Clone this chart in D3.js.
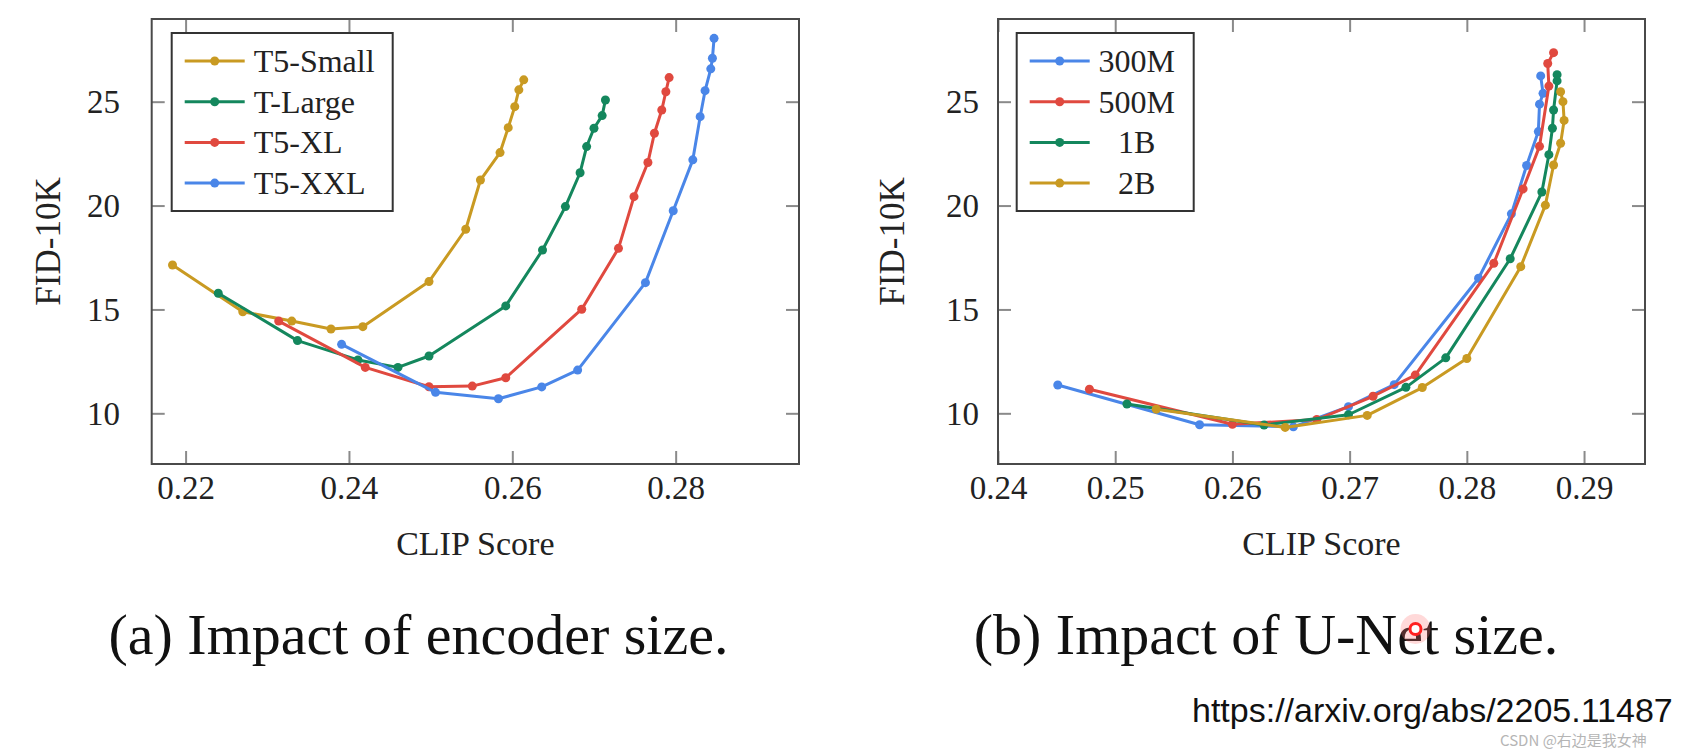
<!DOCTYPE html>
<html>
<head>
<meta charset="utf-8">
<script src="https://cdn.jsdelivr.net/npm/d3@7"></script>
<style>
  html, body { margin: 0; padding: 0; background: #fff; }
  svg { display: block; }
</style>
</head>
<body>
<svg id="chart" width="1702" height="750"></svg>
<script>
// ---------------- DATA ----------------
// (a) Impact of encoder size
const encoderLabels = ["T5-Small", "T-Large", "T5-XL", "T5-XXL"];
const t5SmallClip = [0.2184, 0.2270, 0.2330, 0.2378, 0.2417, 0.2498, 0.2543, 0.2561, 0.2585, 0.2595, 0.2603, 0.2608, 0.2614];
const t5SmallFid  = [17.14, 14.89, 14.44, 14.06, 14.17, 16.34, 18.86, 21.23, 22.55, 23.75, 24.76, 25.57, 26.05];
const tLargeClip  = [0.2240, 0.2337, 0.2411, 0.2460, 0.2498, 0.2592, 0.2637, 0.2665, 0.2683, 0.2691, 0.2700, 0.2710, 0.2714];
const tLargeFid   = [15.78, 13.50, 12.57, 12.21, 12.76, 15.17, 17.86, 19.95, 21.58, 22.84, 23.72, 24.33, 25.08];
const t5XLClip    = [0.2314, 0.2420, 0.2498, 0.2551, 0.2592, 0.2685, 0.2730, 0.2749, 0.2766, 0.2774, 0.2783, 0.2788, 0.2792];
const t5XLFid     = [14.44, 12.21, 11.28, 11.31, 11.71, 15.01, 17.94, 20.43, 22.07, 23.48, 24.60, 25.48, 26.16];
const t5XXLClip   = [0.2391, 0.2506, 0.2583, 0.2636, 0.2680, 0.2763, 0.2797, 0.2821, 0.2830, 0.2836, 0.2843, 0.2845, 0.2847];
const t5XXLFid    = [13.32, 11.01, 10.70, 11.27, 12.08, 16.29, 19.75, 22.20, 24.28, 25.53, 26.58, 27.09, 28.05];

// (b) Impact of U-Net size
const unetLabels = ["300M", "500M", "1B", "2B"];
const u300MClip = [0.2451, 0.2572, 0.2652, 0.2699, 0.2738, 0.2810, 0.2838, 0.2851, 0.2861, 0.2862, 0.2865, 0.2863];
const u300MFid  = [11.36, 9.45, 9.35, 10.32, 11.38, 16.50, 19.60, 21.93, 23.56, 24.88, 25.40, 26.24];
const u500MClip = [0.2478, 0.2600, 0.2672, 0.2720, 0.2756, 0.2823, 0.2848, 0.2862, 0.2870, 0.2869, 0.2874];
const u500MFid  = [11.16, 9.47, 9.70, 10.82, 11.84, 17.22, 20.80, 22.85, 25.75, 26.84, 27.36];
const u1BClip   = [0.2510, 0.2627, 0.2699, 0.2748, 0.2782, 0.2837, 0.2864, 0.2870, 0.2873, 0.2874, 0.2877, 0.2877];
const u1BFid    = [10.45, 9.44, 9.93, 11.25, 12.67, 17.44, 20.65, 22.45, 23.72, 24.60, 26.00, 26.30];
const u2BClip   = [0.2535, 0.2645, 0.2715, 0.2762, 0.2800, 0.2846, 0.2867, 0.2874, 0.2880, 0.2883, 0.2882, 0.2880];
const u2BFid    = [10.20, 9.32, 9.90, 11.24, 12.64, 17.06, 20.02, 21.95, 23.00, 24.10, 25.00, 25.48];

// Axis ticks and texts
const yTicks = [10, 15, 20, 25];
const leftXTicks = [0.22, 0.24, 0.26, 0.28];
const rightXTicks = [0.24, 0.25, 0.26, 0.27, 0.28, 0.29];
const xTitle = "CLIP Score";
const yTitle = "FID-10K";
const captions = ["(a) Impact of encoder size.", "(b) Impact of U-Net size."];
const sourceUrl = "https://arxiv.org/abs/2205.11487";
const watermark = "CSDN @右边是我女神";

// ---------------- STYLE ----------------
const C = { gold: "#c99a22", green: "#14875d", red: "#e0493f", blue: "#4a86e8" };
const serif = "'Liberation Serif', 'Times New Roman', serif";

const svg = d3.select("#chart");
svg.append("rect").attr("width", 1702).attr("height", 750).attr("fill", "#fff");

const zip = (xs, ys) => xs.map((x, i) => [x, ys[i]]);

function panel(cfg) {
  const { left, top, width, height, xDomain, xTicks, series, legend, yLabelX, yTickPad } = cfg;
  const x = d3.scaleLinear().domain(xDomain).range([0, width]);
  const y = d3.scaleLinear().domain([7.56, 28.98]).range([height, 0]);
  const g = svg.append("g").attr("transform", `translate(${left},${top})`);

  const tickStyle = sel => {
    sel.select(".domain").remove();
    sel.selectAll(".tick line").attr("stroke", "#8a8a8a").attr("stroke-width", 2);
    sel.selectAll("text").attr("font-family", serif).attr("font-size", 33).attr("fill", "#222");
  };

  // bottom axis
  const xb = g.append("g").attr("transform", `translate(0,${height})`)
    .call(d3.axisBottom(x).tickValues(xTicks).tickFormat(d3.format(".2f")).tickSize(-13).tickPadding(0));
  tickStyle(xb);
  xb.selectAll("text").attr("y", 35).attr("dy", 0);
  // top axis
  const xt = g.append("g").call(d3.axisTop(x).tickValues(xTicks).tickSize(-13).tickFormat(""));
  tickStyle(xt);
  // left axis
  const yl = g.append("g").call(d3.axisLeft(y).tickValues(yTicks).tickSize(-13).tickPadding(yTickPad));
  tickStyle(yl);
  yl.selectAll("text").attr("dy", "0.33em");
  // right axis
  const yr = g.append("g").attr("transform", `translate(${width},0)`)
    .call(d3.axisRight(y).tickValues(yTicks).tickSize(-13).tickFormat(""));
  tickStyle(yr);

  // series
  const line = d3.line().x(d => x(d[0])).y(d => y(d[1]));
  series.forEach(s => {
    const pts = zip(s.xs, s.ys);
    g.append("path").datum(pts).attr("d", line).attr("fill", "none")
      .attr("stroke", s.color).attr("stroke-width", 3).attr("stroke-linejoin", "round");
    g.selectAll(null).data(pts).enter().append("circle")
      .attr("cx", d => x(d[0])).attr("cy", d => y(d[1])).attr("r", 4.5).attr("fill", s.color);
  });

  // frame
  g.append("rect").attr("width", width).attr("height", height)
    .attr("fill", "none").attr("stroke", "#4a4a4a").attr("stroke-width", 2);

  // axis titles
  g.append("text").attr("x", width / 2).attr("y", height + 91).attr("text-anchor", "middle")
    .attr("font-family", serif).attr("font-size", 34).attr("fill", "#222").text(xTitle);
  g.append("text").attr("transform", `translate(${yLabelX},${height / 2}) rotate(-90)`)
    .attr("text-anchor", "middle").attr("font-family", serif).attr("font-size", 35)
    .attr("fill", "#222").text(yTitle);

  // legend
  const lg = g.append("g").attr("transform", `translate(${legend.dx},14)`);
  lg.append("rect").attr("width", legend.w).attr("height", 178)
    .attr("fill", "#fff").attr("stroke", "#333").attr("stroke-width", 2);
  legend.items.forEach((it, i) => {
    const cy = 28 + i * 40.7;
    lg.append("line").attr("x1", 13).attr("x2", 73).attr("y1", cy).attr("y2", cy)
      .attr("stroke", it.color).attr("stroke-width", 3);
    lg.append("circle").attr("cx", 43).attr("cy", cy).attr("r", 4.5).attr("fill", it.color);
    lg.append("text").attr("x", legend.textX).attr("y", cy + 11)
      .attr("text-anchor", legend.anchor).attr("font-family", serif).attr("font-size", 32)
      .attr("fill", "#222").text(it.label);
  });
}

// (a)
const encSeries = [
  { xs: t5SmallClip, ys: t5SmallFid, color: C.gold },
  { xs: tLargeClip, ys: tLargeFid, color: C.green },
  { xs: t5XLClip, ys: t5XLFid, color: C.red },
  { xs: t5XXLClip, ys: t5XXLFid, color: C.blue }
];
panel({
  left: 151.7, top: 19, width: 647.3, height: 445,
  xDomain: [0.21585, 0.2951], xTicks: leftXTicks, yTickPad: 31.7, yLabelX: -92,
  series: encSeries,
  legend: { dx: 20, w: 221, textX: 82, anchor: "start",
    items: encoderLabels.map((l, i) => ({ label: l, color: encSeries[i].color })) }
});

// (b)
const unetSeries = [
  { xs: u300MClip, ys: u300MFid, color: C.blue },
  { xs: u500MClip, ys: u500MFid, color: C.red },
  { xs: u1BClip, ys: u1BFid, color: C.green },
  { xs: u2BClip, ys: u2BFid, color: C.gold }
];
panel({
  left: 998, top: 19, width: 647, height: 445,
  xDomain: [0.24, 0.2952], xTicks: rightXTicks, yTickPad: 19, yLabelX: -94,
  series: unetSeries,
  legend: { dx: 18.7, w: 177, textX: 120, anchor: "middle",
    items: unetLabels.map((l, i) => ({ label: l, color: unetSeries[i].color })) }
});

// captions
svg.append("text").attr("x", 108.5).attr("y", 654).attr("font-family", serif)
  .attr("font-size", 58).attr("fill", "#111").text(captions[0]);
svg.append("text").attr("x", 973.7).attr("y", 654).attr("font-family", serif)
  .attr("font-size", 58).attr("fill", "#111").text(captions[1]);

// cursor highlight
svg.append("circle").attr("cx", 1415.5).attr("cy", 629).attr("r", 15)
  .attr("fill", "rgba(255,120,120,0.28)");
svg.append("circle").attr("cx", 1415.5).attr("cy", 629).attr("r", 5.5)
  .attr("fill", "#fff").attr("stroke", "#ff2020").attr("stroke-width", 3);

// source url and watermark
svg.append("text").attr("x", 1192).attr("y", 722)
  .attr("font-family", "'Liberation Sans', Arial, sans-serif").attr("font-size", 34)
  .attr("fill", "#111").text(sourceUrl);
svg.append("text").attr("x", 1500).attr("y", 746)
  .attr("font-family", "'Noto Sans CJK SC', 'Noto Sans', sans-serif").attr("font-size", 15)
  .attr("fill", "#b5b5b5").text(watermark);
</script>
</body>
</html>
